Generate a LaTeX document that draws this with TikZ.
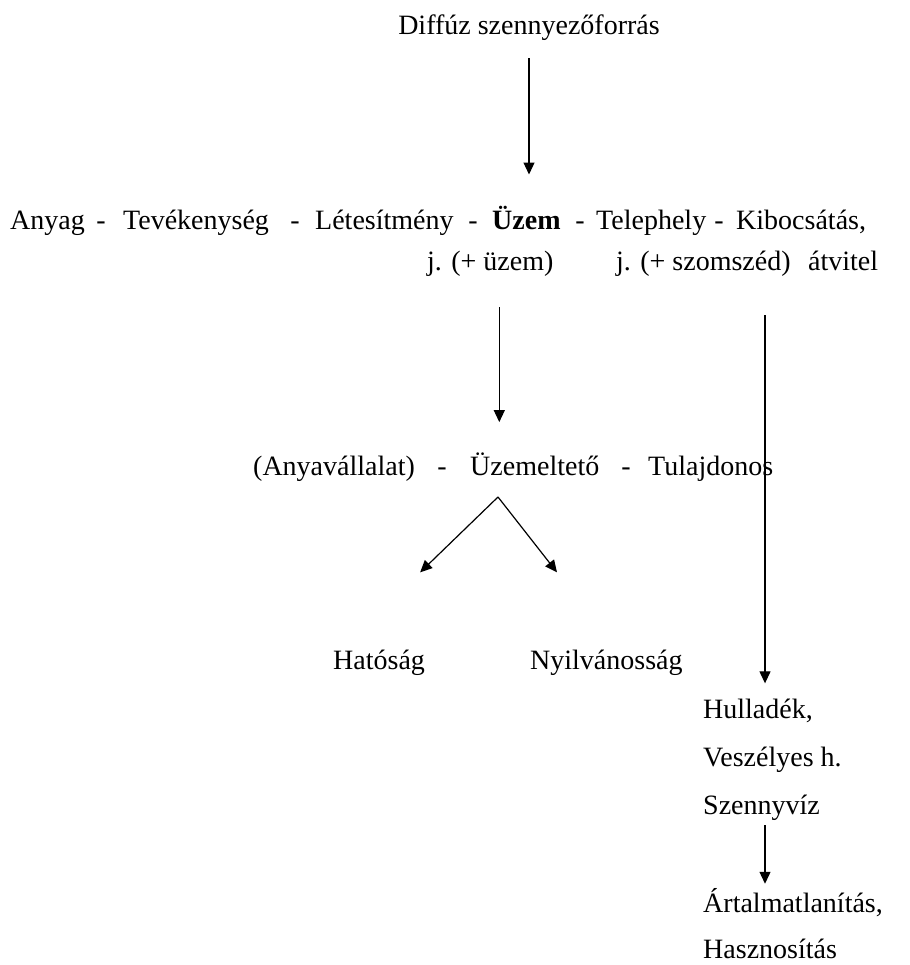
\documentclass[tikz,border=0pt]{standalone}
\usepackage{fontspec}
\setmainfont{Liberation Serif}
\usetikzlibrary{arrows.meta, positioning}

\begin{document}
\begin{tikzpicture}[x=1pt, y=-1pt, font=\fontsize{28}{34}\selectfont]
    % Stílusok
    \tikzstyle{txt} = [inner sep=0pt, anchor=base west]
    \tikzstyle{mid} = [inner sep=0pt, anchor=base]
    \tikzstyle{arrow} = [line width=1.2pt, -{Triangle[width=11pt, length=12pt]}]

    \useasboundingbox (0,0) rectangle (909,965);

    % Csomópontok
    \node (src) [mid] at (529,35) {Diffúz szennyezőforrás};

    \node (anyag) [txt] at (10,230) {Anyag};
    \node (d1) [mid] at (101,230) {-};
    \node (tev) [txt] at (123,230) {Tevékenység};
    \node (d2) [mid] at (295,230) {-};
    \node (letes) [txt] at (315,230) {Létesítmény};
    \node (d3) [mid] at (473,230) {-};
    \node (uzem) [txt] at (492,230) {\bfseries Üzem};
    \node (d4) [mid] at (580,230) {-};
    \node (telep) [txt] at (596,230) {Telephely};
    \node (d5) [mid] at (719,230) {-};
    \node (kibocs) [txt] at (736,230) {Kibocsátás,};

    \node (juzem) [txt] at (427,270) {j. (+ üzem)};
    \node (jszom) [txt] at (616,270) {j. (+ szomszéd)};
    \node (atvit) [txt] at (808,270) {átvitel};

    \node (anyav) [txt] at (253,475) {(Anyavállalat)};
    \node (d6) [mid] at (442,475) {-};
    \node (uzemel) [txt] at (470,475) {Üzemeltető};
    \node (d7) [mid] at (626,475) {-};
    \node (tulaj) [txt] at (648,475) {Tulajdonos};

    \node (hatosag) [txt] at (333,669) {Hatóság};
    \node (nyilv) [txt] at (530,669) {Nyilvánosság};

    \node (hull) [txt] at (703,718) {Hulladék,};
    \node (vesz) [txt] at (703,766) {Veszélyes h.};
    \node (szenny) [txt] at (703,814) {Szennyvíz};
    \node (artal) [txt] at (703,912) {Ártalmatlanítás,};
    \node (haszn) [txt] at (703,958) {Hasznosítás};

    \coordinate (split) at (498,497);

    % Nyilak
    \draw [arrow, shorten <=17pt, shorten >=32pt] (src.south) -- (src.south |- uzem.north);
    \draw [arrow, shorten <=31pt, shorten >=30pt] ([xshift=9pt]juzem.south) -- ([xshift=9pt]juzem.south |- uzemel.north);
    \draw [arrow, shorten <=39pt, shorten >=15pt] ([xshift=62pt]hull.north west |- jszom.south) -- ([xshift=62pt]hull.north west);
    \draw [arrow] (split) -- ([xshift=-5pt, yshift=77pt]hatosag.north east);
    \draw [arrow] (split) -- ([xshift=27pt, yshift=77pt]nyilv.north west);
    \draw [arrow, shorten <=5pt, shorten >=4pt] ([xshift=62pt]szenny.south west) -- ([xshift=62pt]artal.north west);
\end{tikzpicture}
\end{document}
